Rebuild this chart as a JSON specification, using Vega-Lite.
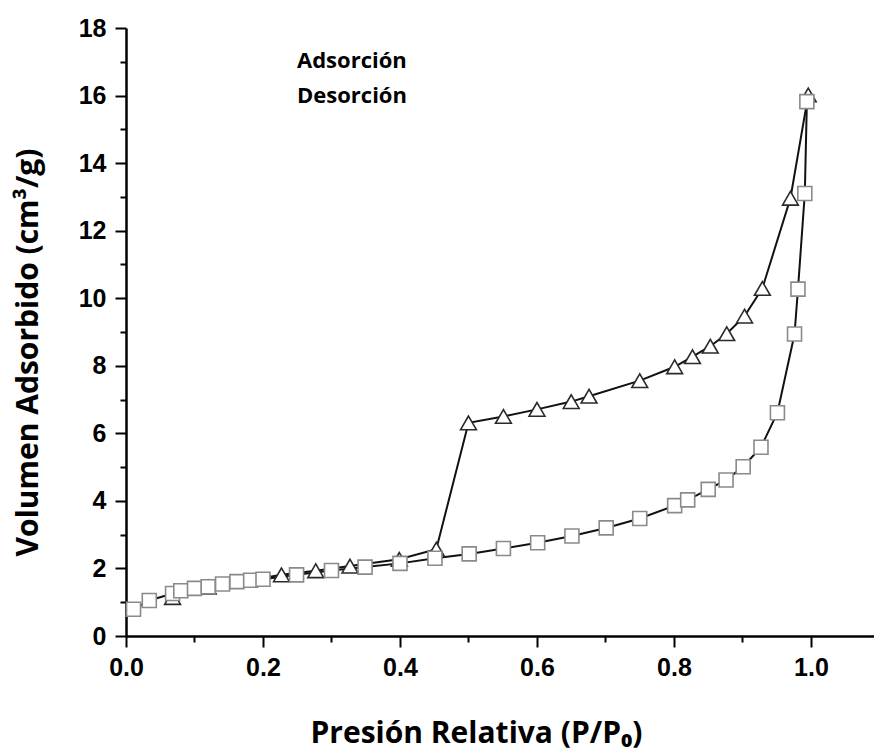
{
  "$schema": "https://vega.github.io/schema/vega-lite/v6.json",
  "width": 748,
  "height": 608,
  "autosize": "none",
  "padding": {"left": 126, "top": 28, "right": 0, "bottom": 114},
  "background": "white",
  "config": {
    "view": {"stroke": null},
    "axis": {
      "grid": false,
      "domainColor": "black",
      "domainWidth": 2.5,
      "tickColor": "black",
      "tickWidth": 2,
      "labelFont": "Liberation Sans",
      "labelFontWeight": "bold",
      "labelFontSize": 25,
      "labelColor": "black",
      "titleFont": "Open Sans",
      "titleFontWeight": "bold",
      "titleFontSize": 30,
      "titleColor": "black"
    }
  },
  "datasets": {
    "iso": [
      {"serie": "Desorción", "i": 1, "p": 0.996, "v": 16.02},
      {"serie": "Desorción", "i": 2, "p": 0.970, "v": 12.96},
      {"serie": "Desorción", "i": 3, "p": 0.929, "v": 10.29},
      {"serie": "Desorción", "i": 4, "p": 0.903, "v": 9.47},
      {"serie": "Desorción", "i": 5, "p": 0.877, "v": 8.95},
      {"serie": "Desorción", "i": 6, "p": 0.853, "v": 8.58},
      {"serie": "Desorción", "i": 7, "p": 0.827, "v": 8.27},
      {"serie": "Desorción", "i": 8, "p": 0.801, "v": 7.97},
      {"serie": "Desorción", "i": 9, "p": 0.750, "v": 7.56},
      {"serie": "Desorción", "i": 10, "p": 0.676, "v": 7.10},
      {"serie": "Desorción", "i": 11, "p": 0.650, "v": 6.94},
      {"serie": "Desorción", "i": 12, "p": 0.600, "v": 6.71},
      {"serie": "Desorción", "i": 13, "p": 0.551, "v": 6.50},
      {"serie": "Desorción", "i": 14, "p": 0.500, "v": 6.31},
      {"serie": "Desorción", "i": 15, "p": 0.453, "v": 2.57},
      {"serie": "Desorción", "i": 16, "p": 0.399, "v": 2.27},
      {"serie": "Desorción", "i": 17, "p": 0.327, "v": 2.07},
      {"serie": "Desorción", "i": 18, "p": 0.277, "v": 1.93},
      {"serie": "Desorción", "i": 19, "p": 0.227, "v": 1.81},
      {"serie": "Desorción", "i": 20, "p": 0.120, "v": 1.45},
      {"serie": "Desorción", "i": 21, "p": 0.068, "v": 1.14},
      {"serie": "Adsorción", "i": 1, "p": 0.011, "v": 0.79},
      {"serie": "Adsorción", "i": 2, "p": 0.034, "v": 1.05},
      {"serie": "Adsorción", "i": 3, "p": 0.068, "v": 1.26},
      {"serie": "Adsorción", "i": 4, "p": 0.080, "v": 1.34},
      {"serie": "Adsorción", "i": 5, "p": 0.100, "v": 1.41},
      {"serie": "Adsorción", "i": 6, "p": 0.120, "v": 1.46},
      {"serie": "Adsorción", "i": 7, "p": 0.141, "v": 1.54},
      {"serie": "Adsorción", "i": 8, "p": 0.162, "v": 1.61},
      {"serie": "Adsorción", "i": 9, "p": 0.182, "v": 1.65},
      {"serie": "Adsorción", "i": 10, "p": 0.200, "v": 1.68},
      {"serie": "Adsorción", "i": 11, "p": 0.249, "v": 1.81},
      {"serie": "Adsorción", "i": 12, "p": 0.300, "v": 1.94},
      {"serie": "Adsorción", "i": 13, "p": 0.349, "v": 2.04},
      {"serie": "Adsorción", "i": 14, "p": 0.400, "v": 2.15},
      {"serie": "Adsorción", "i": 15, "p": 0.451, "v": 2.30},
      {"serie": "Adsorción", "i": 16, "p": 0.501, "v": 2.43},
      {"serie": "Adsorción", "i": 17, "p": 0.551, "v": 2.59},
      {"serie": "Adsorción", "i": 18, "p": 0.601, "v": 2.76},
      {"serie": "Adsorción", "i": 19, "p": 0.651, "v": 2.96},
      {"serie": "Adsorción", "i": 20, "p": 0.701, "v": 3.20},
      {"serie": "Adsorción", "i": 21, "p": 0.750, "v": 3.48},
      {"serie": "Adsorción", "i": 22, "p": 0.801, "v": 3.86},
      {"serie": "Adsorción", "i": 23, "p": 0.820, "v": 4.03},
      {"serie": "Adsorción", "i": 24, "p": 0.850, "v": 4.34},
      {"serie": "Adsorción", "i": 25, "p": 0.876, "v": 4.62},
      {"serie": "Adsorción", "i": 26, "p": 0.901, "v": 5.01},
      {"serie": "Adsorción", "i": 27, "p": 0.927, "v": 5.59},
      {"serie": "Adsorción", "i": 28, "p": 0.951, "v": 6.61},
      {"serie": "Adsorción", "i": 29, "p": 0.976, "v": 8.94},
      {"serie": "Adsorción", "i": 30, "p": 0.981, "v": 10.27},
      {"serie": "Adsorción", "i": 31, "p": 0.991, "v": 13.10},
      {"serie": "Adsorción", "i": 32, "p": 0.994, "v": 15.82}
    ]
  },
  "data": {"name": "iso"},
  "encoding": {
    "x": {
      "field": "p",
      "type": "quantitative",
      "scale": {"domain": [0, 1.092], "nice": false, "zero": false},
      "axis": {
        "values": [0, 0.1, 0.2, 0.3, 0.4, 0.5, 0.6, 0.7, 0.8, 0.9, 1.0],
        "labelExpr": "round(datum.value * 10) % 2 == 0 ? format(datum.value, '.1f') : ''",
        "tickSize": {"condition": {"test": "round(datum.value * 10) % 2 == 0", "value": 11}, "value": 6},
        "labelPadding": 8,
        "labelFlush": false,
        "labelOverlap": false,
        "title": "Presión Relativa (P/P₀)",
        "titleX": 350,
        "titleY": 106,
        "titleAnchor": "middle",
        "titleBaseline": "alphabetic"
      }
    },
    "y": {
      "field": "v",
      "type": "quantitative",
      "scale": {"domain": [0, 18], "nice": false},
      "axis": {
        "values": [0, 1, 2, 3, 4, 5, 6, 7, 8, 9, 10, 11, 12, 13, 14, 15, 16, 17, 18],
        "labelExpr": "datum.value % 2 == 0 ? format(datum.value, 'd') : ''",
        "tickSize": {"condition": {"test": "datum.value % 2 == 0", "value": 11}, "value": 6},
        "labelPadding": 9,
        "labelFlush": false,
        "labelOverlap": false,
        "title": "Volumen Adsorbido (cm³/g)",
        "titleX": -89,
        "titleY": 324,
        "titleAngle": -90,
        "titleAnchor": "middle",
        "titleBaseline": "alphabetic"
      }
    }
  },
  "layer": [
    {
      "mark": {"type": "line", "color": "#111", "strokeWidth": 2},
      "encoding": {
        "detail": {"field": "serie", "type": "nominal"},
        "order": {"field": "i", "type": "quantitative"}
      }
    },
    {
      "mark": {"type": "point", "filled": false, "fill": "white", "fillOpacity": 1, "strokeWidth": 1.6, "opacity": 1},
      "encoding": {
        "shape": {
          "field": "serie",
          "type": "nominal",
          "scale": {"domain": ["Adsorción", "Desorción"], "range": ["square", "triangle-up"]},
          "legend": {
            "title": null,
            "orient": "none",
            "legendX": 97,
            "legendY": 22,
            "symbolSize": 400,
            "symbolType": "square",
            "symbolStrokeWidth": 1.6,
            "symbolStrokeColor": "#222",
            "symbolFillColor": "white",
            "symbolOpacity": 1,
            "labelFont": "Open Sans",
            "labelFontWeight": "bold",
            "labelFontSize": 22,
            "labelColor": "black",
            "labelOffset": 52,
            "rowPadding": 9,
            "padding": 0
          }
        },
        "stroke": {
          "condition": {"test": "datum.serie === 'Adsorción'", "value": "#8a8a8a"},
          "value": "#2a2a2a"
        },
        "size": {
          "condition": {"test": "datum.serie === 'Adsorción'", "value": 196},
          "value": 250
        }
      }
    }
  ]
}
